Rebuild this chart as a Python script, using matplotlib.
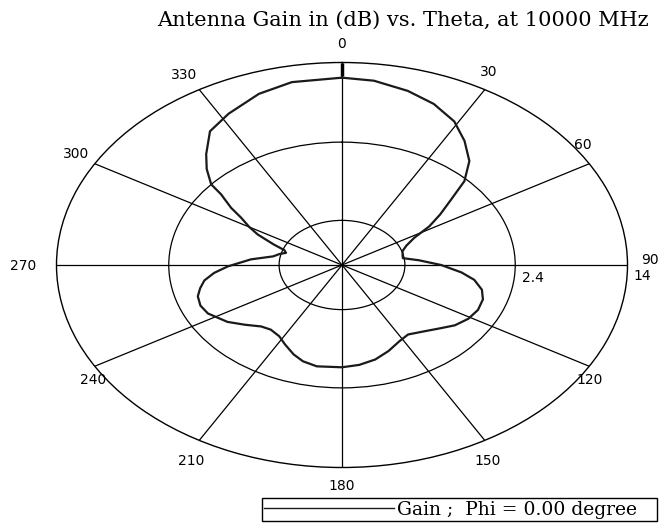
import numpy as np
import matplotlib
matplotlib.use("Agg")
import matplotlib.pyplot as plt

# gain pattern (theta in degrees, gain in dB)
theta_deg = [0, 7, 15, 22, 29, 35, 41, 46, 50, 54, 58, 62, 67, 72, 78, 81, 85, 90,
             95, 99, 104, 109, 115, 121, 127, 132, 139, 146, 152, 159, 166, 173, 180,
             190, 196, 201, 207, 212, 218, 223, 229, 235, 243, 248, 253, 257, 261, 265,
             269, 275, 280, 284, 287, 290, 293, 297, 300, 303.5, 306, 309.5, 311, 315,
             319, 325, 332, 341, 349, 360]
gain_db = [11.79, 11.55, 10.76, 9.81, 8.42, 6.57, 4.56, 2.08, -0.87, -2.96, -4.85, -7.03,
           -8.27, -8.92, -9.10, -9.13, -7.54, -5.26, -3.11, -1.66, -0.60, -0.10, 0.0, -0.28,
           -0.90, -1.75, -2.67, -3.29, -2.90, -2.08, -1.31, -0.84, -0.60, -0.51, -0.90, -1.55,
           -2.52, -3.26, -3.55, -3.26, -2.23, -1.05, 0.05, 0.28, 0.08, -0.46, -1.10, -2.23,
           -3.70, -6.06, -8.27, -8.86, -9.45, -9.16, -7.83, -5.74, -4.44, -2.99, -1.34, 0.70,
           2.41, 4.27, 5.89, 8.28, 9.46, 10.87, 11.64, 11.79]

r_min, r_max = -15.5, 14.0
r_circles = [-9.0, 2.4]
angle_ticks = list(range(0, 360, 30))
angle_labels = [str(a) for a in angle_ticks]
# where each angle label sits relative to the end of its spoke (pixels, y down)
label_offsets = [(0, -18), (4, -18), (-6, -19), (22, -5), (0, 14), (3, 21),
                 (0, 19), (-8, 21), (-2, 14), (-33, 1), (-19, -10), (-15, -15)]

fig = plt.figure(figsize=(6.6, 5.24), dpi=100)
ax = fig.add_axes([56.5 / 660, 56.5 / 524, 571 / 660, 405 / 524], projection="polar")
ax.set_aspect("auto")
ax.set_theta_zero_location("N")
ax.set_theta_direction(-1)
ax.set_ylim(r_min, r_max)

ax.set_rticks(r_circles)
ax.set_yticklabels([])
ax.set_thetagrids(angle_ticks, [""] * len(angle_ticks))
ax.grid(True, color="black", linewidth=0.9)
ax.spines["polar"].set_color("black")
ax.spines["polar"].set_linewidth(1.0)

for a, lab, (dx, dy) in zip(angle_ticks, angle_labels, label_offsets):
    ax.annotate(lab, (np.deg2rad(a), r_max), xytext=(dx * 0.72, -dy * 0.72),
                textcoords="offset points", ha="center", va="center",
                fontsize=10, family="DejaVu Sans", annotation_clip=False)

# short heavy tick on the 0 degree axis
ax.plot([0, 0], [12.1, r_max], color="black", linewidth=2.5, solid_capstyle="butt")

line, = ax.plot(np.deg2rad(theta_deg), gain_db, color="#1a1a1a", linewidth=1.6,
                label="Gain ;  Phi = 0.00 degree   ")

# radial scale labels
ax.annotate("2.4", (np.deg2rad(90), 2.4), xytext=(5, -4), textcoords="offset points",
            ha="left", va="top", fontsize=10, family="DejaVu Sans")
ax.annotate("14", (np.deg2rad(90), r_max), xytext=(4, -3), textcoords="offset points",
            ha="left", va="top", fontsize=10, family="DejaVu Sans", annotation_clip=False)

fig.text(0.61, 0.962, "Antenna Gain in (dB) vs. Theta, at 10000 MHz",
         ha="center", va="center", fontsize=15, family="DejaVu Serif")

leg = fig.legend(handles=[line], loc="lower right", bbox_to_anchor=(0.996, 0.005),
                 borderaxespad=0, frameon=True, fancybox=False, framealpha=1,
                 edgecolor="black", prop={"family": "DejaVu Serif", "size": 13.5},
                 handlelength=6.9, borderpad=0.15, handletextpad=0.15)
leg.get_lines()[0].set_linewidth(1.0)

fig.savefig("out.png", dpi=100)
